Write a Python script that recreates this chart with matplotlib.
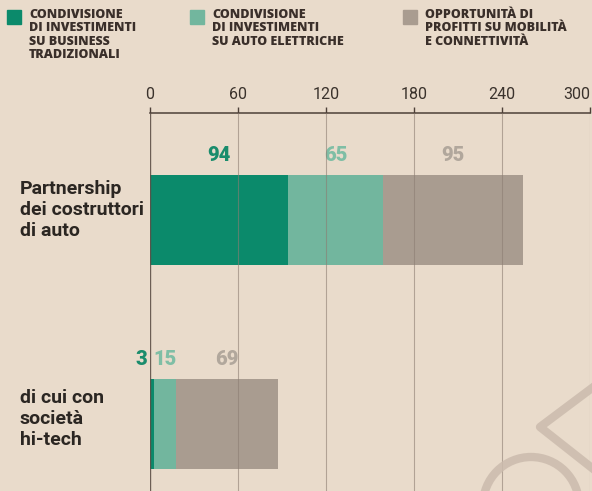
import matplotlib.pyplot as plt
from matplotlib.patches import Arc
from matplotlib.lines import Line2D

# Accordi tra costruttori di auto: numero per tipo di collaborazione
categorie = ["Partnership\ndei costruttori\ndi auto", "di cui con\nsocietà\nhi-tech"]
tradizionali = [94, 3]
elettriche = [65, 15]
mobilita = [95, 69]
serie_nomi = [
    "CONDIVISIONE\nDI INVESTIMENTI\nSU BUSINESS\nTRADIZIONALI",
    "CONDIVISIONE\nDI INVESTIMENTI\nSU AUTO ELETTRICHE",
    "OPPORTUNITÀ DI\nPROFITTI SU MOBILITÀ\nE CONNETTIVITÀ",
]
tick_valori = [0, 60, 120, 180, 240, 300]

BG = "#e9dbcb"
colori = ["#0b8a6b", "#72b69e", "#a99c90"]
colori_testo = ["#1a8c6c", "#7fbea5", "#b1a79c"]
FONT = "Roboto"

W, H = 592, 491
fig = plt.figure(figsize=(W / 100, H / 100), dpi=100, facecolor=BG)

# asse: 0 a x=150px, 300 a x=590px, linea dell'asse a y=113px
ax = fig.add_axes([150 / W, 0, 440 / W, (H - 113) / H])
ax.set_facecolor(BG)
ax.set_xlim(0, 300)
ax.set_ylim(1.328, -0.5245)

pos = range(len(categorie))
serie = [tradizionali, elettriche, mobilita]
left = [0] * len(categorie)
for vals, col, tcol in zip(serie, colori, colori_testo):
    ax.barh(pos, vals, left=left, height=0.44, color=col, zorder=2)
    for i, v in enumerate(vals):
        if v < 8:
            ax.text(left[i] - 2, i - 0.315, str(v), ha="right", va="center",
                    color=tcol, fontsize=14.5, fontweight="black", family=FONT)
        else:
            ax.text(left[i] + v / 2, i - 0.315, str(v), ha="center", va="center",
                    color=tcol, fontsize=14.5, fontweight="black", family=FONT)
    left = [l + v for l, v in zip(left, vals)]

# griglia verticale sopra le barre
for t in tick_valori:
    ax.axvline(t, color="#5f5048" if t == 0 else "#8c7d72", lw=1.0 if t == 0 else 0.8,
               alpha=0.9 if t == 0 else 0.6, zorder=3)

for s in ax.spines.values():
    s.set_visible(False)
ax.spines["top"].set_visible(True)
ax.spines["top"].set_color("#4d4038")
ax.spines["top"].set_linewidth(1.1)
ax.xaxis.tick_top()
ax.set_xticks(tick_valori)
labels = ax.set_xticklabels([str(t) for t in tick_valori], family=FONT, fontsize=11.5,
                            fontweight="normal", color="#3a322c")
labels[-1].set_horizontalalignment("right")
labels[-1].set_x(300)
ax.tick_params(axis="x", length=4, width=1, color="#4d4038", pad=4, direction="out")
ax.set_yticks([])

# etichette delle categorie
for i, c in enumerate(categorie):
    fig.text(20 / W, 1 - (210 + i * 209) / H, c, ha="left", va="center", family=FONT,
             fontsize=14, fontweight="bold", color="#2b2622", linespacing=1.2)

# legenda
leg_x = [7, 190, 403]
for x, col, nome in zip(leg_x, colori, serie_nomi):
    fig.patches.append(plt.Rectangle((x / W, 1 - 24 / H), 14 / W, 14 / H,
                                     transform=fig.transFigure, color=col, figure=fig))
    fig.text((x + 22) / W, 1 - 9 / H, nome, ha="left", va="top", family="Open Sans",
             fontsize=9, fontweight="heavy", color="#3a2f2a", linespacing=1.15)

# filigrana in basso a destra
fig.patches.append(Arc((531 / W, 1 - 505 / H), 96 / W, 96 / H, theta1=0, theta2=180,
                       transform=fig.transFigure, color="#cbbbad", lw=6, alpha=0.85))
fig.lines.append(Line2D([592 / W, 540 / W, 592 / W], [1 - 388 / H, 1 - 427 / H, 1 - 468 / H],
                        transform=fig.transFigure, color="#cbbbad", lw=6, alpha=0.85))

fig.savefig("out.png", dpi=100, facecolor=BG)
